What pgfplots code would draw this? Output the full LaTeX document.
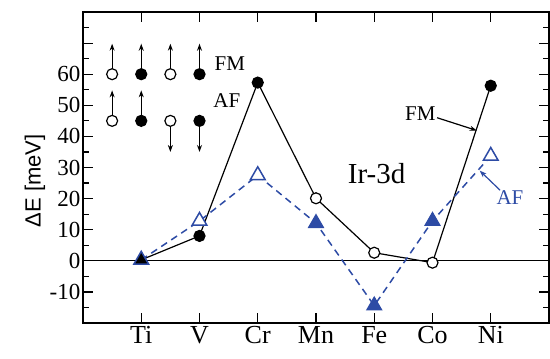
\documentclass[border=0pt]{standalone}
\usepackage{pgfplots}
\pgfplotsset{compat=1.18}
\usepackage{fontspec}
\setmainfont{Liberation Serif}
\newfontfamily\sansf{Liberation Sans}
\newfontfamily\seriff{Liberation Serif}
\usetikzlibrary{arrows.meta,calc}
\definecolor{afblue}{RGB}{45,75,165}

\begin{document}
\begin{tikzpicture}
\begin{axis}[
 scale only axis, width=466pt, height=311pt,
 xmin=-1, xmax=7, ymin=-20, ymax=80,
 xtick={0,...,6}, xticklabels={Ti,V,Cr,Mn,Fe,Co,Ni},
 xtick pos=both, xticklabel pos=lower,
 ytick={-20,-10,...,80},
 yticklabels={{},-10,0,10,20,30,40,50,60,{},{}},
 minor y tick num=1,
 ytick pos=both, yticklabel pos=left,
 tick align=inside,
 major tick length=10pt, minor tick length=6pt,
 axis line style={line width=1.5pt},
 every tick/.style={black, line width=1.2pt},
 /pgf/number format/assume math mode=true,
 xticklabel style={font=\fontsize{26}{30}\selectfont\seriff},
 yticklabel style={font=\fontsize{23}{26}\selectfont\seriff, inner sep=2.5pt},
 ylabel={ΔE [meV]},
 ylabel style={font=\fontsize{22}{26}\selectfont\sansf, at={(axis description cs:-0.103,0.457)}, anchor=center},
 clip=false,
]
% zero line
\addplot[black, line width=0.8pt] coordinates {(-1,0) (7,0)};
% FM line
\addplot[black, line width=1.2pt, mark=none] coordinates {(0,0.3) (1,8) (2,57.3) (3,20.1) (4,2.6) (5,-0.6) (6,56.3)};
% AF line
\addplot[afblue, line width=1.5pt, dash pattern=on 7pt off 5pt, mark=none] coordinates {(0,0.3) (1,12.8) (2,27.5) (3,12.1) (4,-14.4) (5,12.8) (6,33.7)};
% FM marks
\addplot[only marks, mark=*, mark size=5.5pt, mark options={fill=black, draw=black, line width=1.2pt, solid}] coordinates {(1,8) (2,57.3) (6,56.3)};
\addplot[only marks, mark=*, mark size=5.5pt, mark options={fill=white, draw=black, line width=1.2pt, solid}] coordinates {(3,20.1) (4,2.6) (5,-0.6)};
% AF marks
\addplot[only marks, mark=triangle*, mark size=8.5pt, mark options={fill=afblue, draw=afblue, line width=1.2pt, solid}] coordinates {(3,12.1) (4,-14.4) (5,12.8)};
\addplot[only marks, mark=triangle*, mark size=8.5pt, mark options={fill=white, draw=afblue, line width=1.5pt, solid}] coordinates {(1,12.8) (2,27.5) (6,33.7)};
\addplot[only marks, mark=triangle*, mark size=8.5pt, mark options={fill=black, draw=afblue, line width=1.5pt, solid}] coordinates {(0,0.3)};
% spin diagram
\addplot[only marks, mark=*, mark size=5.5pt, mark options={fill=white, draw=black, line width=1.2pt}] coordinates {(-0.5,60) (0.5,60) (-0.5,45) (0.5,45)};
\addplot[only marks, mark=*, mark size=5.5pt, mark options={fill=black, draw=black, line width=1.2pt}] coordinates {(0,60) (1,60) (0,45) (1,45)};
\draw[-{Stealth[length=7pt,width=5pt]}, line width=1.1pt] (axis cs:-0.5,61.8) -- (axis cs:-0.5,69.8);
\draw[-{Stealth[length=7pt,width=5pt]}, line width=1.1pt] (axis cs:0,61.8) -- (axis cs:0,69.8);
\draw[-{Stealth[length=7pt,width=5pt]}, line width=1.1pt] (axis cs:0.5,61.8) -- (axis cs:0.5,69.8);
\draw[-{Stealth[length=7pt,width=5pt]}, line width=1.1pt] (axis cs:1,61.8) -- (axis cs:1,69.8);
\draw[-{Stealth[length=7pt,width=5pt]}, line width=1.1pt] (axis cs:-0.5,46.8) -- (axis cs:-0.5,54.8);
\draw[-{Stealth[length=7pt,width=5pt]}, line width=1.1pt] (axis cs:0,46.8) -- (axis cs:0,54.8);
\draw[-{Stealth[length=7pt,width=5pt]}, line width=1.1pt] (axis cs:0.5,43.2) -- (axis cs:0.5,35.0);
\draw[-{Stealth[length=7pt,width=5pt]}, line width=1.1pt] (axis cs:1,43.2) -- (axis cs:1,35.0);
\node[font=\fontsize{21}{24}\selectfont] at (axis cs:1.52,63.3) {FM};
\node[font=\fontsize{21}{24}\selectfont] at (axis cs:1.47,51.5) {AF};
\node[font=\fontsize{29}{34}\selectfont] at (axis cs:4.04,28) {Ir-3d};
\node[font=\fontsize{21}{24}\selectfont] at (axis cs:4.79,47.3) {FM};
\draw[-{Stealth[length=7pt,width=5pt]}, line width=1.2pt] (axis cs:5.08,46) -- (axis cs:5.76,41.9);
\node[font=\fontsize{21}{24}\selectfont, text=afblue] at (axis cs:6.33,20.4) {AF};
\draw[-{Stealth[length=7pt,width=5pt]}, line width=1.2pt, afblue] (axis cs:6.16,22.7) -- (axis cs:5.81,29);
\end{axis}
\pgfresetboundingbox
\useasboundingbox ($(current axis.south west)+(-83pt,-35pt)$) rectangle ($(current axis.north east)+(1pt,12pt)$);
\end{tikzpicture}
\end{document}
